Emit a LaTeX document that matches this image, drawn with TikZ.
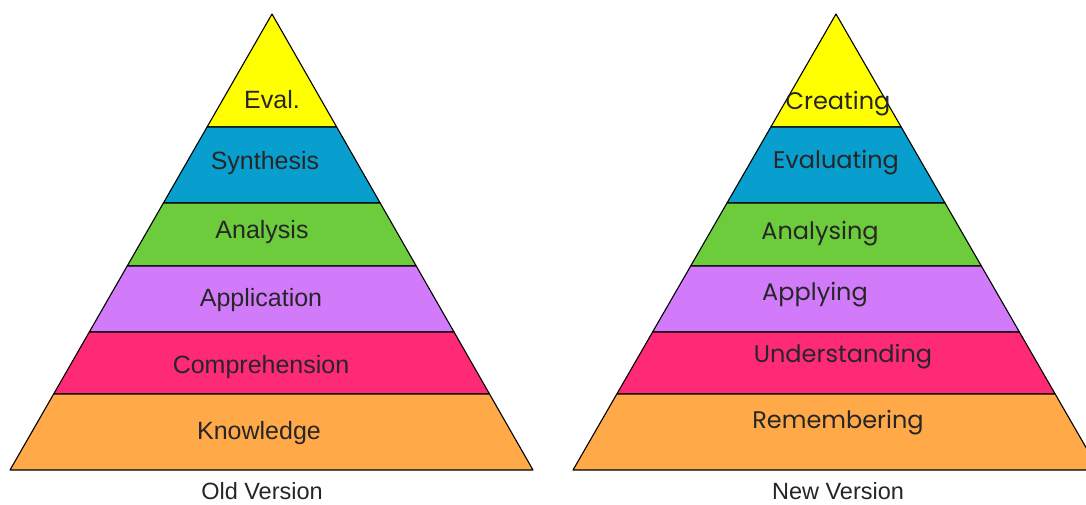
\documentclass[tikz,border=0pt]{standalone}
\usepackage{fontspec}
\setmainfont{Liberation Sans}
\newfontfamily\newverfont{Poppins}
\usetikzlibrary{calc}

\definecolor{bandyellow}{RGB}{255,255,0}
\definecolor{bandblue}{RGB}{8,158,206}
\definecolor{bandgreen}{RGB}{108,204,60}
\definecolor{bandviolet}{RGB}{210,123,250}
\definecolor{bandpink}{RGB}{255,42,117}
\definecolor{bandorange}{RGB}{255,169,72}

\tikzset{
	band/.style={draw=black, line width=1.1pt, line join=round},
	oldlabel/.style={font=\fontsize{25}{25}\selectfont, text=black!85, inner sep=0pt},
	newlabel/.style={font=\newverfont\fontsize{24}{24}\selectfont, text=black!85, inner sep=0pt},
	caption/.style={font=\fontsize{23.5}{23.5}\selectfont, text=black!85, inner sep=0pt}
}

\begin{document}
\begin{tikzpicture}[x=1pt,y=-1pt]

	% Proper size --- Bounding box
	\useasboundingbox (0,0) rectangle (1086,504);
	\fill[white] (0,0) rectangle (1086,504);

	% ------------------------------------------------
	% OLD VERSION
	% ------------------------------------------------
	\coordinate (OT) at (272,14);
	\coordinate (OL) at (10,470);
	\coordinate (OR) at (533,470);

	% bands, as fractions of the height (apex = 0, base = 1)
	\foreach \hi/\lo/\col in {0/0.2478/bandyellow, 0.2478/0.4145/bandblue,
		0.4145/0.5526/bandgreen, 0.5526/0.6974/bandviolet,
		0.6974/0.8333/bandpink, 0.8333/1/bandorange}{
		\path[band, fill=\col] ($(OT)!\hi!(OL)$) -- ($(OT)!\lo!(OL)$)
			-- ($(OT)!\lo!(OR)$) -- ($(OT)!\hi!(OR)$) -- cycle;
	}

	\node[oldlabel] (eval)   at (272,100) {Eval.};
	\node[oldlabel] (synth)  at (265,163) {Synthesis};
	\node[oldlabel] (anal)   at (262,232) {Analysis};
	\node[oldlabel] (appl)   at (261,300) {Application};
	\node[oldlabel] (comp)   at (261,367) {Comprehension};
	\node[oldlabel] (know)   at (259,433) {Knowledge};

	\node[caption] (oldcap) at (262,491) {Old Version};

	% ------------------------------------------------
	% NEW VERSION
	% ------------------------------------------------
	\coordinate (NT) at (836,14);
	\coordinate (NL) at (573,470);
	\coordinate (NR) at (1099,470);

	\foreach \hi/\lo/\col in {0/0.2478/bandyellow, 0.2478/0.4145/bandblue,
		0.4145/0.5526/bandgreen, 0.5526/0.6974/bandviolet,
		0.6974/0.8333/bandpink, 0.8333/1/bandorange}{
		\path[band, fill=\col] ($(NT)!\hi!(NL)$) -- ($(NT)!\lo!(NL)$)
			-- ($(NT)!\lo!(NR)$) -- ($(NT)!\hi!(NR)$) -- cycle;
	}

	\node[newlabel] (creat)  at (838,104) {Creating};
	\node[newlabel] (evalu)  at (836,163) {Evaluating};
	\node[newlabel] (analy)  at (820,234) {Analysing};
	\node[newlabel] (apply)  at (815,295) {Applying};
	\node[newlabel] (under)  at (843,357) {Understanding};
	\node[newlabel] (remem)  at (838,423) {Remembering};

	\node[caption] (newcap) at (838,491) {New Version};

\end{tikzpicture}
\end{document}
